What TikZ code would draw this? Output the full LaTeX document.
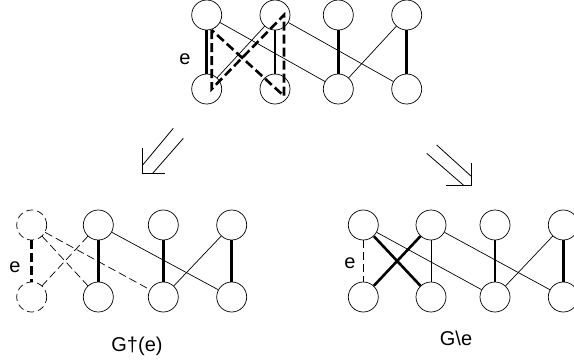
\documentclass[tikz,border=0pt]{standalone}
\usepackage{fontspec}
\setmainfont{Liberation Sans}
\usetikzlibrary{calc}

\tikzset{
    vertex/.style={draw, circle, minimum size=30pt, inner sep=0pt, line width=0.7pt},
    dvertex/.style={vertex, dash pattern=on 7pt off 4pt},
    thinedge/.style={line width=0.7pt},
    thickedge/.style={line width=2.6pt},
    altcycle/.style={line width=2.6pt, dash pattern=on 9pt off 4pt},
    dthin/.style={line width=0.7pt, dash pattern=on 8pt off 4pt},
    dthick/.style={line width=2.6pt, dash pattern=on 9pt off 4pt},
    lbl/.style={font=\fontsize{20}{24}\selectfont, inner sep=0pt}
}

\begin{document}
\begin{tikzpicture}[x=1pt, y=-1pt]
    \useasboundingbox (0,0) rectangle (574,360);

    % G
    \node[vertex] (gu1) at (206.7,15) {};
    \node[vertex] (gu2) at (275,15) {};
    \node[vertex] (gu3) at (338.3,15) {};
    \node[vertex] (gu4) at (406.7,15) {};

    \node[vertex] (gv1) at (206.7,89) {};
    \node[vertex] (gv2) at (275,89) {};
    \node[vertex] (gv3) at (338.3,89) {};
    \node[vertex] (gv4) at (406.7,89) {};

    \draw[thickedge] (gu1) -- (gv1);
    \draw[thickedge] (gu2) -- (gv2);
    \draw[thickedge] (gu3) -- (gv3);
    \draw[thickedge] (gu4) -- (gv4);
    \draw[thinedge] (gu1) -- (gv3);
    \draw[thinedge] (gu2) -- (gv1);
    \draw[thinedge] (gu2) -- (gv4);
    \draw[thinedge] (gu4) -- (gv3);

    \draw[altcycle] ($(gu1)+(5,15)$) -- ($(gv1)+(5,0)$) -- ($(gu2)+(9,0)$)
        -- ($(gv2)+(9,7)$) -- cycle;

    \node[lbl] (ge) at (185,59) {e};

    % arrows
    \draw[line width=0.8pt] (173.3,128.3) -- (142.7,165);
    \draw[line width=0.8pt] (183.3,138.3) -- (152.7,173.3);
    \draw[line width=0.8pt] (142.7,148.3) -- (142.7,173.3) -- (165,173.3);

    \draw[line width=0.8pt] (426.7,153.3) -- (463.3,185);
    \draw[line width=0.8pt] (436.7,145) -- (471.7,176.7);
    \draw[line width=0.8pt] (471.7,163.3) -- (471.7,185) -- (445.7,185);

    % G+(e)
    \node[dvertex] (pu1) at (31.7,225) {};
    \node[vertex] (pu2) at (98.3,225) {};
    \node[vertex] (pu3) at (163.3,225) {};
    \node[vertex] (pu4) at (231.7,225) {};

    \node[dvertex] (pv1) at (31.7,297) {};
    \node[vertex] (pv2) at (98.3,297) {};
    \node[vertex] (pv3) at (163.3,297) {};
    \node[vertex] (pv4) at (231.7,297) {};

    \draw[dthick] (pu1) -- (pv1);
    \draw[dthin] (pu1) -- (pv2);
    \draw[dthin] (pu1) -- (pv3);
    \draw[dthin] (pu2) -- (pv1);
    \draw[thickedge] (pu2) -- (pv2);
    \draw[thinedge] (pu2) -- (pv4);
    \draw[thickedge] (pu3) -- (pv3);
    \draw[thinedge] (pu4) -- (pv3);
    \draw[thickedge] (pu4) -- (pv4);

    \node[lbl] (pe) at (15,267) {e};
    \node[lbl, anchor=base] (pname) at (137,351) {G†(e)};

    % G\e
    \node[vertex] (mu1) at (363.3,225) {};
    \node[vertex] (mu2) at (431,225) {};
    \node[vertex] (mu3) at (495,225) {};
    \node[vertex] (mu4) at (563.3,225) {};

    \node[vertex] (mv1) at (363.3,297) {};
    \node[vertex] (mv2) at (431,297) {};
    \node[vertex] (mv3) at (495,297) {};
    \node[vertex] (mv4) at (563.3,297) {};

    \draw[dthin] (mu1) -- (mv1);
    \draw[thickedge] (mu1) -- (mv2);
    \draw[thickedge] (mu2) -- (mv1);
    \draw[thinedge] (mu1) -- (mv3);
    \draw[thinedge] (mu2) -- (mv2);
    \draw[thinedge] (mu2) -- (mv4);
    \draw[thickedge] (mu3) -- (mv3);
    \draw[thinedge] (mu4) -- (mv3);
    \draw[thickedge] (mu4) -- (mv4);

    \node[lbl] (me) at (350,263) {e};
    \node[lbl, anchor=base] (mname) at (456,345) {G\textbackslash e};
\end{tikzpicture}
\end{document}
